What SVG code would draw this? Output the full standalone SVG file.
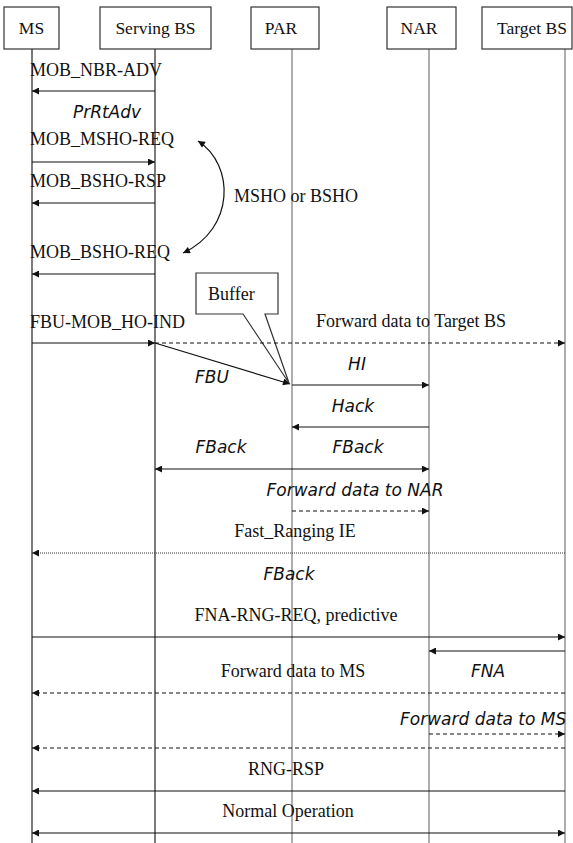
<svg xmlns="http://www.w3.org/2000/svg" width="573" height="843" viewBox="0 0 573 843">
  <style>
    .box { fill: #fff; stroke: #333; stroke-width: 1.2; }
    .hdr { font-family: "Liberation Serif", "Times New Roman", serif; font-size: 17.5px; fill: #111; text-anchor: middle; }
    .life { stroke: #222; stroke-width: 1.2; fill: none; }
    .life2 { stroke: #777; stroke-width: 1.2; fill: none; }
    .msg { stroke: #111; stroke-width: 1.2; fill: none; }
    .dash { stroke: #111; stroke-width: 1.2; stroke-dasharray: 4 3; fill: none; }
    .dot { stroke: #333; stroke-width: 1; stroke-dasharray: 1 1; fill: none; }
    .lbl { font-family: "Liberation Serif", "Times New Roman", serif; font-size: 18px; fill: #111; }
    .c { text-anchor: middle; }
    .it { font-family: "DejaVu Sans", "Liberation Sans", sans-serif; font-style: italic; font-size: 17px; fill: #111; }
  </style>
  <defs>
    <marker id="arr" viewBox="0 0 10 10" refX="10" refY="5" markerWidth="9" markerHeight="7" markerUnits="userSpaceOnUse" orient="auto-start-reverse">
      <path d="M0,0 L10,5 L0,10 z" fill="#111"/>
    </marker>
  </defs>

  <rect width="573" height="843" fill="#fff"/>

  <!-- lifelines -->
  <g id="lifelines">
    <line class="life" x1="32" y1="49" x2="32" y2="843"/>
    <line class="life" x1="155" y1="49" x2="155" y2="843"/>
    <line class="life2" x1="292" y1="49" x2="292" y2="843"/>
    <line class="life2" x1="429" y1="49" x2="429" y2="843"/>
    <line class="life2" x1="565" y1="49" x2="565" y2="843"/>
  </g>

  <!-- participants -->
  <g id="ms">
    <rect class="box" x="4" y="7" width="55" height="42"/>
    <text class="hdr" x="31.5" y="34">MS</text>
  </g>
  <g id="serving-bs">
    <rect class="box" x="100" y="7" width="111" height="42"/>
    <text class="hdr" x="155.5" y="34">Serving BS</text>
  </g>
  <g id="par">
    <rect class="box" x="251" y="7" width="68" height="42"/>
    <text class="hdr" x="281" y="34">PAR</text>
  </g>
  <g id="nar">
    <rect class="box" x="387" y="7" width="69" height="42"/>
    <text class="hdr" x="419" y="34">NAR</text>
  </g>
  <g id="target-bs">
    <rect class="box" x="482" y="7" width="90" height="42"/>
    <text class="hdr" x="532" y="34">Target BS</text>
  </g>

  <!-- buffer note -->
  <g id="buffer">
    <path class="box" d="M196,273 H278 V314 H265 L289,383 L243,314 H196 Z"/>
    <text class="lbl" x="208" y="300">Buffer</text>
  </g>

  <!-- messages -->
  <g id="connectors">
    <line class="msg" x1="155" y1="91" x2="32" y2="91" marker-end="url(#arr)"/>
    <line class="msg" x1="32" y1="162" x2="155" y2="162" marker-end="url(#arr)"/>
    <line class="msg" x1="155" y1="203" x2="32" y2="203" marker-end="url(#arr)"/>
    <line class="msg" x1="155" y1="274" x2="32" y2="274" marker-end="url(#arr)"/>
    <path class="msg" d="M198,141 C235,165 235,229 183,253" marker-start="url(#arr)" marker-end="url(#arr)"/>
    <line class="msg" x1="32" y1="343" x2="155" y2="343" marker-end="url(#arr)"/>
    <line class="dash" x1="155" y1="343" x2="565" y2="343" marker-end="url(#arr)"/>
    <line class="msg" x1="155" y1="343" x2="290" y2="384" marker-end="url(#arr)"/>
    <line class="msg" x1="292" y1="385" x2="429" y2="385" marker-end="url(#arr)"/>
    <line class="msg" x1="429" y1="427" x2="292" y2="427" marker-end="url(#arr)"/>
    <line class="msg" x1="155" y1="469" x2="429" y2="469" marker-start="url(#arr)" marker-end="url(#arr)"/>
    <line class="dash" x1="292" y1="511" x2="429" y2="511" marker-end="url(#arr)"/>
    <line class="dot" x1="565" y1="553" x2="32" y2="553" marker-end="url(#arr)"/>
    <line class="msg" x1="32" y1="637" x2="565" y2="637" marker-end="url(#arr)"/>
    <line class="msg" x1="565" y1="651" x2="429" y2="651" marker-end="url(#arr)"/>
    <line class="dash" x1="565" y1="693" x2="32" y2="693" marker-end="url(#arr)"/>
    <line class="dash" x1="429" y1="734" x2="565" y2="734" marker-end="url(#arr)"/>
    <line class="dash" x1="565" y1="748" x2="32" y2="748" marker-end="url(#arr)"/>
    <line class="msg" x1="565" y1="791" x2="32" y2="791" marker-end="url(#arr)"/>
    <line class="msg" x1="32" y1="833" x2="565" y2="833" marker-start="url(#arr)" marker-end="url(#arr)"/>
  </g>

  <!-- labels -->
  <g id="labels">
    <text class="lbl" x="30" y="76">MOB_NBR-ADV</text>
    <text class="it c" x="107" y="118">PrRtAdv</text>
    <text class="lbl" x="30" y="145">MOB_MSHO-REQ</text>
    <text class="lbl" x="30" y="187">MOB_BSHO-RSP</text>
    <text class="lbl" x="234" y="202">MSHO or BSHO</text>
    <text class="lbl" x="30" y="258">MOB_BSHO-REQ</text>
    <text class="lbl" x="30" y="328">FBU-MOB_HO-IND</text>
    <text class="lbl" x="316" y="327">Forward data to Target BS</text>
    <text class="it c" x="212" y="383">FBU</text>
    <text class="it c" x="357" y="370">HI</text>
    <text class="it c" x="353" y="412">Hack</text>
    <text class="it c" x="221" y="453">FBack</text>
    <text class="it c" x="358" y="453">FBack</text>
    <text class="it c" x="355" y="496">Forward data to NAR</text>
    <text class="lbl c" x="295" y="537">Fast_Ranging IE</text>
    <text class="it c" x="289" y="580">FBack</text>
    <text class="lbl c" x="296" y="621">FNA-RNG-REQ, predictive</text>
    <text class="lbl c" x="293" y="677">Forward data to MS</text>
    <text class="it c" x="488" y="677">FNA</text>
    <text class="it" x="400" y="725">Forward data to MS</text>
    <text class="lbl c" x="286" y="775">RNG-RSP</text>
    <text class="lbl c" x="288" y="817">Normal Operation</text>
  </g>
</svg>
